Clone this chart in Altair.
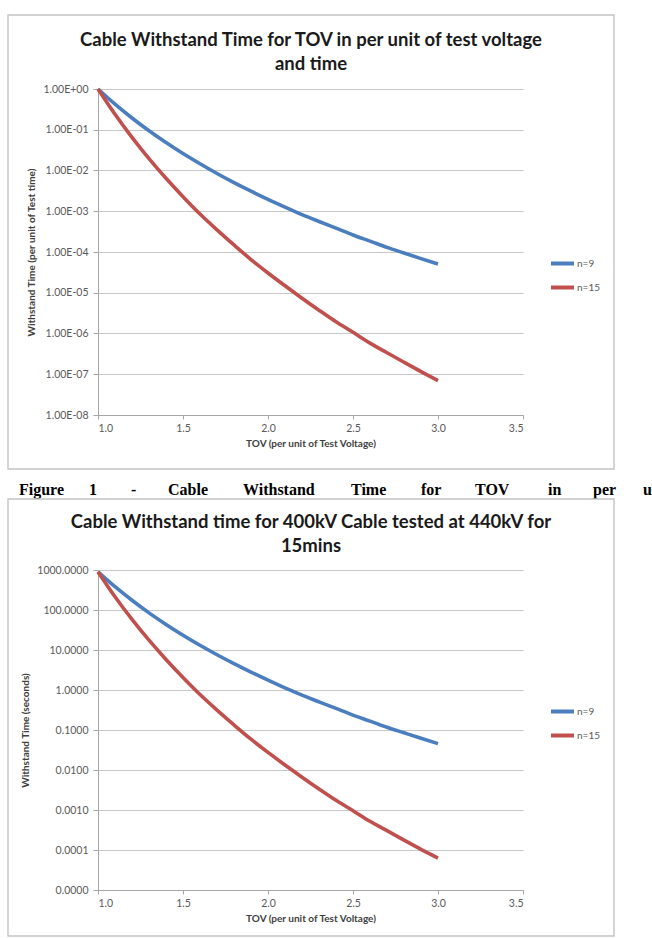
import altair as alt
import pandas as pd

# TOV in per unit of test voltage
tov = [1.0, 1.1, 1.2, 1.3, 1.4, 1.5, 1.6, 1.7, 1.8, 1.9, 2.0,
       2.1, 2.2, 2.3, 2.4, 2.5, 2.6, 2.7, 2.8, 2.9, 3.0]
series_names = ["n=9", "n=15"]

# withstand time in per unit of test time
pu_n9 = [1.0, 0.424, 0.194, 0.0943, 0.0484, 0.0260, 0.0146, 0.00843, 0.00504, 0.00310,
         0.00195, 0.00126, 0.000829, 0.000561, 0.000384, 0.000262, 0.000185, 0.000130,
         0.0000944, 0.0000688, 0.0000508]
pu_n15 = [1.0, 0.239, 0.0649, 0.0195, 0.00644, 0.00228, 0.000856, 0.000350, 0.000149,
          0.0000653, 0.0000305, 0.0000148, 0.00000735, 0.00000373, 0.00000194,
          0.00000107, 0.000000580, 0.000000338, 0.000000197, 0.000000116, 0.0000000700]

# withstand time in seconds (400kV cable, 440kV test for 15 mins)
sec_n9 = [900, 382, 175, 84.9, 43.6, 23.4, 13.1, 7.59, 4.54, 2.79, 1.76, 1.13, 0.746,
          0.505, 0.346, 0.236, 0.167, 0.117, 0.085, 0.0619, 0.0457]
sec_n15 = [900, 215, 58.4, 17.6, 5.80, 2.05, 0.770, 0.315, 0.134, 0.0588, 0.0275, 0.0133,
           0.00662, 0.00336, 0.00175, 0.00096, 0.000522, 0.000304, 0.000177, 0.000104,
           0.000063]

x_ticks = [1.0, 1.5, 2.0, 2.5, 3.0, 3.5]
pu_ticks = [1e-8, 1e-7, 1e-6, 1e-5, 1e-4, 1e-3, 1e-2, 1e-1, 1.0]
sec_ticks = [1e-5, 1e-4, 1e-3, 1e-2, 1e-1, 1.0, 10.0, 100.0, 1000.0]

title_pu = ["Cable Withstand Time for TOV in per unit of test voltage", "and time"]
title_sec = ["Cable Withstand time for 400kV Cable tested at 440kV for", "15mins"]
x_title = "TOV (per unit of Test Voltage)"
y_title_pu = "Withstand Time (per unit of Test time)"
y_title_sec = "Withstand Time (seconds)"
caption_words = ["Figure", "1", "-", "Cable", "Withstand", "Time", "for", "TOV", "in", "per", "u"]

# layout (pixels, relative to each plot area's top-left corner)
PLOT_W = 425
BOX_CX = 213
caption_x = [-79, -9, 33, 70, 145, 253, 323, 377, 450, 495, 545]
COLORS = ["#4a7ebf", "#c0504d"]


def long_frame(a, b):
    return pd.DataFrame({
        "tov": tov + tov,
        "value": a + b,
        "series": [series_names[0]] * len(tov) + [series_names[1]] * len(tov),
    })


one_row = pd.DataFrame({"k": [0]})

exp_expr = "round(log(datum.value) / LN10)"
sci_label = ("'1.00E' + (" + exp_expr + " < 0 ? '-' : '+') + (abs(" + exp_expr +
             ") < 10 ? '0' : '') + abs(" + exp_expr + ")")


def text_layer(txt, px, py, **style):
    return alt.Chart(one_row).mark_text(text=txt, **style).encode(
        x=alt.value(px), y=alt.value(py)
    )


def panel(df, y_domain, y_ticks, y_title, title, plot_h, box, title_y, legend_y, label_kw,
          caption=False):
    frame = alt.Chart(one_row).mark_rect(fillOpacity=0, stroke="#c4c4c4", strokeWidth=1.4).encode(
        x=alt.value(box[0]), x2=alt.value(box[1]), y=alt.value(box[2]), y2=alt.value(box[3])
    )
    lines = alt.Chart(df).mark_line(strokeWidth=3.6, interpolate="monotone").encode(
        x=alt.X("tov:Q", title=x_title,
                scale=alt.Scale(domain=[1.0, 3.5], nice=False, zero=False),
                axis=alt.Axis(values=x_ticks, format=".1f", grid=False, tickSize=4,
                              labelPadding=4, titlePadding=5)),
        y=alt.Y("value:Q", title=y_title,
                scale=alt.Scale(type="log", domain=y_domain, nice=False),
                axis=alt.Axis(values=y_ticks, grid=True, tickSize=5, labelPadding=5,
                              titlePadding=6, **label_kw)),
        color=alt.Color("series:N", sort=series_names,
                        scale=alt.Scale(domain=series_names, range=COLORS),
                        legend=alt.Legend(orient="none", legendX=451, legendY=legend_y,
                                          title=None, symbolType="stroke", symbolSize=529,
                                          symbolStrokeWidth=4, labelFont="Lato",
                                          labelFontSize=10, labelColor="#595959",
                                          labelOffset=1)),
        order=alt.Order("series:N", sort="ascending"),
    )
    title_style = dict(align="center", baseline="middle", font="Lato", fontSize=18.5,
                       fontWeight="bold", color="#1a1a1a")
    layers = [frame, lines,
              text_layer(title[0], BOX_CX, title_y, **title_style),
              text_layer(title[1], BOX_CX, title_y + 24, **title_style)]
    if caption:
        for word, px in zip(caption_words, caption_x):
            layers.append(text_layer(word, px, 406, align="left", baseline="alphabetic",
                                     font="Liberation Serif", fontWeight="bold",
                                     fontSize=16, color="#000000"))
    return alt.layer(*layers).properties(width=PLOT_W, height=plot_h)


top = panel(long_frame(pu_n9, pu_n15), [1e-8, 1.0], pu_ticks, y_title_pu, title_pu, 326,
            [-90, 516, -74, 380], -49, 161, {"labelExpr": sci_label}, caption=True)
bottom = panel(long_frame(sec_n9, sec_n15), [1e-5, 1000.0], sec_ticks, y_title_sec, title_sec,
               320, [-90, 516, -71, 366], -48, 128, {"format": ".4f"})

chart = alt.vconcat(top, bottom, spacing=155, bounds="flush").resolve_scale(
    y="independent", color="independent"
).properties(
    padding={"left": 7, "top": 14, "right": 0, "bottom": 0},
    background="white",
).configure_view(stroke=None).configure_axis(
    domainColor="#a6a6a6", tickColor="#a6a6a6", gridColor="#c8c8c8", gridWidth=1.2,
    labelColor="#595959", labelFont="Lato", labelFontSize=10.5,
    titleFont="Lato", titleFontSize=10, titleFontWeight="bold", titleColor="#404040",
)

chart.save("out.html", embed_options={"renderer": "svg", "actions": False})
